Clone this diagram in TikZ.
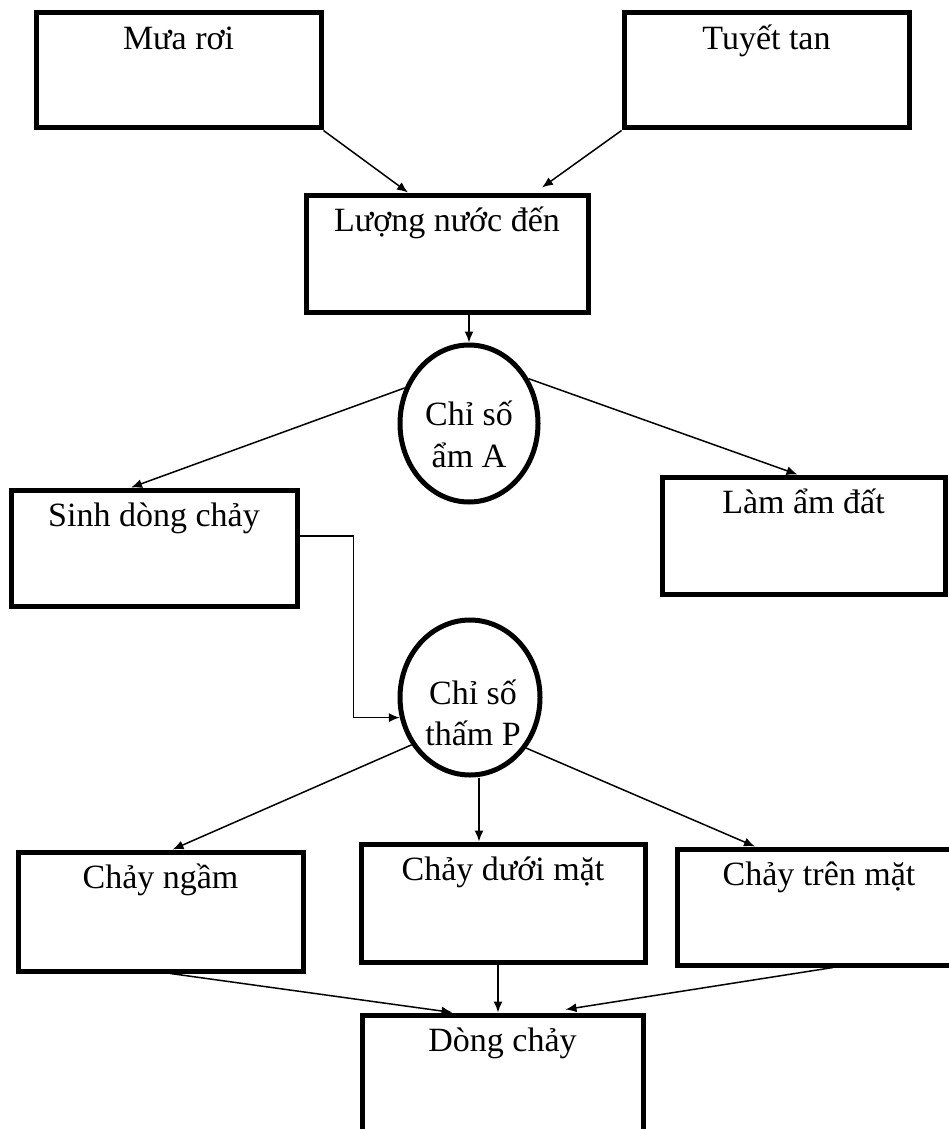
\documentclass[tikz,border=0pt]{standalone}
\usepackage{fontspec}
\setmainfont{Liberation Serif}
\usetikzlibrary{shapes.geometric,arrows.meta,calc}
\begin{document}
\begin{tikzpicture}[x=1pt,y=-1pt,font=\fontsize{34}{41}\selectfont,
  box/.style={draw,line width=5pt,rectangle,inner sep=0pt},
  oval/.style={draw,line width=5pt,ellipse,inner sep=0pt},
  arr/.style={line width=1.5pt,-{Latex[length=11pt,width=9pt]}},
  txt/.style={anchor=base,inner sep=0pt}]
\useasboundingbox (0,0) rectangle (949,1129);
\clip (0,0) rectangle (949,1129);
% boxes
\node[box,minimum width=285pt,minimum height=115pt,label={[txt,yshift=-39pt,name=muat]north:Mưa rơi}] (mua) at (178.5,70.5) {};
\node[box,minimum width=285pt,minimum height=115pt,label={[txt,yshift=-39pt,name=tuyett]north:Tuyết tan}] (tuyet) at (766.5,70.5) {};
\node[box,minimum width=282pt,minimum height=117pt,label={[txt,yshift=-39pt,name=luongt]north:Lượng nước đến}] (luong) at (447,253.5) {};
\node[box,minimum width=286pt,minimum height=116pt,label={[txt,yshift=-39pt,name=sinht]north:Sinh dòng chảy}] (sinh) at (154,548) {};
\node[box,minimum width=283pt,minimum height=117pt,label={[txt,yshift=-39pt,name=lamt]north:Làm ẩm đất}] (lam) at (803.5,535.5) {};
\node[box,minimum width=285pt,minimum height=119pt,label={[txt,yshift=-39pt,name=ngamt]north:Chảy ngầm}] (ngam) at (160.5,911.5) {};
\node[box,minimum width=284pt,minimum height=118pt,label={[txt,yshift=-39pt,name=duoit]north:Chảy dưới mặt}] (duoi) at (503,903) {};
\node[box,minimum width=284pt,minimum height=116pt,label={[txt,yshift=-39pt,name=trent]north:Chảy trên mặt}] (tren) at (819,907) {};
\node[box,minimum width=281pt,minimum height=150pt,label={[txt,yshift=-39pt,name=dongt]north:Dòng chảy}] (dong) at (502.5,1090) {};
% ovals
\node[oval,minimum width=138pt,minimum height=157pt,
  label={[txt,yshift=10pt,name=Ata]center:Chỉ số},
  label={[txt,yshift=-32pt,name=Atb]center:ẩm A}] (A) at (469,423.5) {};
\node[oval,minimum width=140pt,minimum height=155pt,
  label={[txt,yshift=5.5pt,xshift=3pt,name=Pta]center:Chỉ số},
  label={[txt,yshift=-35.5pt,xshift=3pt,name=Ptb]center:thấm P}] (P) at (470,697.5) {};
% connectors
\draw[arr] (mua.south east) -- ([xshift=-39pt]luong.north);
\draw[arr] (tuyet.south west) -- ([xshift=95pt,yshift=5pt]luong.north);
\draw[arr] (luong.south -| A.north) -- (A.north);
\draw[arr] (A.151) -- ([xshift=-23pt]sinh.north);
\draw[arr] (A.37) -- ([xshift=-6pt]lam.north);
\draw[arr] ([yshift=12pt]sinh.east) -- ++(54,0) |- (P.196);
\draw[arr] (P.219) -- ([xshift=12pt]ngam.north);
\draw[arr] ([xshift=9pt]P.south) -- ([xshift=9pt]P.south |- duoi.north);
\draw[arr] (P.318) -- ([xshift=-64pt]tren.north);
\draw[arr] ([xshift=10pt]ngam.south) -- ([xshift=-50pt]dong.north);
\draw[arr] ([xshift=-5pt]duoi.south) -- ([xshift=-5pt]duoi.south |- dong.north);
\draw[arr] ([xshift=14pt]tren.south) -- ([xshift=63pt,yshift=3pt]dong.north);
\end{tikzpicture}
\end{document}
